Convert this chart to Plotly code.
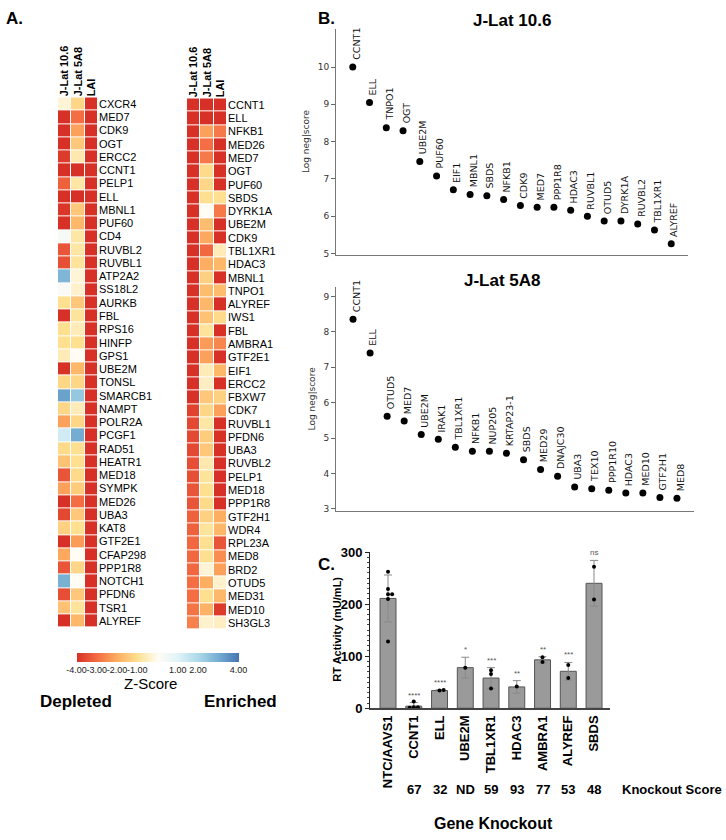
import plotly.graph_objects as go

W, H = 726, 840

# ---------------- data ----------------
conditions = ["J-Lat 10.6", "J-Lat 5A8", "LAI"]

dep_genes = ["CXCR4", "MED7", "CDK9", "OGT", "ERCC2", "CCNT1", "PELP1", "ELL", "MBNL1", "PUF60",
             "CD4", "RUVBL2", "RUVBL1", "ATP2A2", "SS18L2", "AURKB", "FBL", "RPS16", "HINFP", "GPS1",
             "UBE2M", "TONSL", "SMARCB1", "NAMPT", "POLR2A", "PCGF1", "RAD51", "HEATR1", "MED18", "SYMPK",
             "MED26", "UBA3", "KAT8", "GTF2E1", "CFAP298", "PPP1R8", "NOTCH1", "PFDN6", "TSR1", "ALYREF"]
dep_jlat106 = [-0.3, -4, -4, -4, -3.8, -4, -3.2, -4, -3.9, -4,
               0.3, -3.4, -3.5, 2.8, 0.2, -1.0, -4, -1.0, -1.0, -0.6,
               -4, -1.2, 3.2, -1.2, -2.2, 1.3, -1.1, -1.6, -3.4, -2.2,
               -4, -3.6, -1.3, -4, -2.1, -3.4, 2.9, -3.5, -1.6, -4]
dep_jlat5a8 = [-1.2, -3.0, -2.2, -1.5, -0.7, -4, -0.8, -4, -1.5, -1.8,
               -0.8, -0.8, -0.9, -0.3, -0.4, -1.5, -0.9, -0.6, -1.0, 0.0,
               -1.8, -1.2, 2.4, -0.6, -1.2, 3.0, -1.0, -1.0, -1.1, -1.4,
               -3.0, -1.5, -1.0, -2.3, 0.0, -1.2, 0.0, -1.5, -0.9, -1.8]
dep_lai = [-4] * 40

enr_genes = ["CCNT1", "ELL", "NFKB1", "MED26", "MED7", "OGT", "PUF60", "SBDS", "DYRK1A", "UBE2M",
             "CDK9", "TBL1XR1", "HDAC3", "MBNL1", "TNPO1", "ALYREF", "IWS1", "FBL", "AMBRA1", "GTF2E1",
             "EIF1", "ERCC2", "FBXW7", "CDK7", "RUVBL1", "PFDN6", "UBA3", "RUVBL2", "PELP1", "MED18",
             "PPP1R8", "GTF2H1", "WDR4", "RPL23A", "MED8", "BRD2", "OTUD5", "MED31", "MED10", "SH3GL3"]
enr_jlat106 = [-4, -4, -4, -4, -4, -4, -4, -4, -4, -4,
               -4, -4, -4, -4, -4, -4, -4, -4, -4, -4,
               -4, -4, -4, -3.7, -3.6, -3.6, -3.6, -3.5, -3.5, -3.4,
               -3.4, -3.2, -3.2, -3.1, -3.1, -3.1, -3.0, -3.0, -2.9, -2.7]
enr_jlat5a8 = [-4, -4, -2.2, -3.0, -2.8, -1.1, -1.2, -1.0, 0.0, -1.7,
               -2.1, -3.1, -2.0, -1.3, -1.7, -1.8, -1.6, -0.9, -2.3, -2.2,
               -0.6, -0.5, -1.5, -1.2, -0.8, -1.4, -1.5, -0.7, -0.9, -1.0,
               -1.1, -1.3, -0.9, -1.0, -1.0, -0.3, -2.0, -1.0, -1.9, -0.4]
enr_lai = [-4, -4, -2.8, -4, -4, -4, -4, -1.0, -2.8, -4,
           -4, -0.6, -1.8, -4, -1.7, -4, -1.1, -4, -2.6, -4,
           -1.8, -4, -1.3, -2.2, -4, -4, -4, -4, -4, -4,
           -4, -2.0, -1.8, -3.4, -2.5, -2.2, -0.4, -1.8, -3.8, -0.5]

jlat106_genes = ["CCNT1", "ELL", "TNPO1", "OGT", "UBE2M", "PUF60", "EIF1", "MBNL1", "SBDS", "NFKB1",
                 "CDK9", "MED7", "PPP1R8", "HDAC3", "RUVBL1", "OTUD5", "DYRK1A", "RUVBL2", "TBL1XR1", "ALYREF"]
jlat106_score = [10.0, 9.05, 8.37, 8.29, 7.47, 7.08, 6.71, 6.58, 6.55, 6.45,
                 6.29, 6.24, 6.24, 6.16, 6.0, 5.87, 5.87, 5.79, 5.63, 5.26]

jlat5a8_genes = ["CCNT1", "ELL", "OTUD5", "MED7", "UBE2M", "IRAK1", "TBL1XR1", "NFKB1", "NUP205", "KRTAP23-1",
                 "SBDS", "MED29", "DNAJC30", "UBA3", "TEX10", "PPP1R10", "HDAC3", "MED10", "GTF2H1", "MED8"]
jlat5a8_score = [8.36, 7.4, 5.62, 5.48, 5.1, 4.97, 4.74, 4.63, 4.63, 4.57,
                 4.39, 4.11, 3.92, 3.62, 3.57, 3.53, 3.45, 3.45, 3.32, 3.30]

ko_genes = ["NTC/AAVS1", "CCNT1", "ELL", "UBE2M", "TBL1XR1", "HDAC3", "AMBRA1", "ALYREF", "SBDS"]
ko_rt_mean = [211, 4, 34, 78, 58, 41, 93, 71, 240]
ko_rt_err = [45, 7, 1.5, 20, 20, 12, 6, 17, 44]
ko_rt_reps = [[262, 229, 219, 219, 210, 128], [13, 2, 2, 1], [34, 35], [78],
              [73, 66, 38], [42], [98, 89], [83, 58], [272, 209]]
ko_sig = ["", "****", "****", "*", "***", "**", "**", "***", "ns"]
ko_score = ["", "67", "32", "ND", "59", "93", "77", "53", "48"]

cbar_vals = [-4, -3, -2, -1, 1, 2, 4]
cbar_text = ["-4.00", "-3.00", "-2.00", "-1.00", "1.00", "2.00", "4.00"]

# ---------------- helpers ----------------
def fx(px):
    return px / W

def fy(px):
    return 1 - px / H

ARIAL = "Liberation Sans, Arial, sans-serif"
DEJAVU = "DejaVu Sans, sans-serif"

colorscale = [
    [0.0, "#d73027"], [0.125, "#f46d43"], [0.25, "#fdae61"], [0.375, "#fee090"],
    [0.5, "#fffcf4"], [0.625, "#e0f3f8"], [0.75, "#abd9e9"], [0.875, "#74add1"], [1.0, "#4575b4"],
]

fig = go.Figure()

# ---------------- heatmaps ----------------
def zmat(a, b, c):
    return [[a[i], b[i], c[i]] for i in range(len(a))]

fig.add_trace(go.Heatmap(z=zmat(dep_jlat106, dep_jlat5a8, dep_lai), x=conditions, y=dep_genes,
                         coloraxis="coloraxis", xgap=1, ygap=1, xaxis="x", yaxis="y", hoverinfo="skip"))
fig.add_trace(go.Heatmap(z=zmat(enr_jlat106, enr_jlat5a8, enr_lai), x=conditions, y=enr_genes,
                         coloraxis="coloraxis", xgap=1, ygap=1, xaxis="x2", yaxis="y2", hoverinfo="skip"))

# ---------------- scatter panels ----------------
fig.add_trace(go.Scatter(x=list(range(1, len(jlat106_score) + 1)), y=jlat106_score, mode="markers",
                         marker=dict(color="black", size=7), xaxis="x3", yaxis="y3", cliponaxis=False,
                         hoverinfo="skip"))
fig.add_trace(go.Scatter(x=list(range(1, len(jlat5a8_score) + 1)), y=jlat5a8_score, mode="markers",
                         marker=dict(color="black", size=7), xaxis="x4", yaxis="y4", cliponaxis=False,
                         hoverinfo="skip"))

annotations = []
for i, (g, s) in enumerate(zip(jlat106_genes, jlat106_score)):
    annotations.append(dict(x=i + 1, y=s, xref="x3", yref="y3", text=g, showarrow=False, textangle=-90,
                            xanchor="center", yanchor="bottom", xshift=3, yshift=5,
                            font=dict(family=DEJAVU, size=9.5, color="#111")))
for i, (g, s) in enumerate(zip(jlat5a8_genes, jlat5a8_score)):
    annotations.append(dict(x=i + 1, y=s, xref="x4", yref="y4", text=g, showarrow=False, textangle=-90,
                            xanchor="center", yanchor="bottom", xshift=3, yshift=5,
                            font=dict(family=DEJAVU, size=9.5, color="#111")))

# ---------------- bar chart ----------------
idx = list(range(len(ko_genes)))
fig.add_trace(go.Bar(x=idx, y=ko_rt_mean, width=0.62, xaxis="x5", yaxis="y5", hoverinfo="skip",
                     marker=dict(color="#9a9a9a", line=dict(color="#555", width=1)),
                     error_y=dict(type="data", array=ko_rt_err, color="#8a8a8a", thickness=1, width=4)))

# replicate points (spread points that overlap)
px_, py_ = [], []
for i, reps in enumerate(ko_rt_reps):
    used = []
    for v in reps:
        close = [u for u in used if abs(u - v) < 6]
        used.append(v)
        n = len(close)
        off = 0.0 if n == 0 else (0.16 if n % 2 == 1 else -0.16) * ((n + 1) // 2)
        px_.append(i + off)
        py_.append(v)
fig.add_trace(go.Scatter(x=px_, y=py_, mode="markers", marker=dict(color="black", size=4),
                         xaxis="x5", yaxis="y5", cliponaxis=False, hoverinfo="skip"))

for i in idx:
    if ko_sig[i]:
        annotations.append(dict(x=i, y=ko_rt_mean[i] + ko_rt_err[i], xref="x5", yref="y5", text=ko_sig[i],
                                showarrow=False, yanchor="bottom", yshift=1,
                                font=dict(family=ARIAL, size=8, color="#555")))
    if ko_score[i]:
        annotations.append(dict(x=i, y=fy(797), xref="x5", yref="paper", text=ko_score[i], showarrow=False,
                                yanchor="middle", font=dict(family=ARIAL, size=13, color="black", weight="bold")))
annotations.append(dict(x=fx(724), y=fy(797), xref="paper", yref="paper", text="Knockout Score",
                        showarrow=False, xanchor="right", yanchor="middle",
                        font=dict(family=ARIAL, size=13, color="black", weight="bold")))
annotations.append(dict(x=fx(493), y=fy(831), xref="paper", yref="paper", text="Gene Knockout",
                        showarrow=False, xanchor="center", yanchor="middle",
                        font=dict(family=ARIAL, size=16, color="black", weight="bold")))
annotations.append(dict(x=fx(337), y=fy(634), xref="paper", yref="paper", text="RT Activity (mU/mL)",
                        showarrow=False, textangle=-90, xanchor="center", yanchor="middle",
                        font=dict(family=ARIAL, size=11, color="black", weight="bold")))

# ---------------- text labels ----------------
def txt(x, y, t, size, bold=False, anchor="center", family=ARIAL, color="black"):
    annotations.append(dict(x=fx(x), y=fy(y), xref="paper", yref="paper", text=t, showarrow=False,
                            xanchor=anchor, yanchor="middle",
                            font=dict(family=family, size=size, color=color,
                                      weight="bold" if bold else "normal")))

txt(4, 12, "A.", 17, True, "left")
txt(316, 12, "B.", 17, True, "left")
txt(316, 568, "C.", 17, True, "left")
txt(512, 14, "J-Lat 10.6", 17, True)
txt(502, 278, "J-Lat 5A8", 17, True)
txt(150, 689, "Z-Score", 15)
txt(76, 707, "Depleted", 17, True)
txt(240, 707, "Enriched", 17, True)

fig.update_layout(
    width=W, height=H, margin=dict(l=0, r=0, t=0, b=0),
    paper_bgcolor="white", plot_bgcolor="white", showlegend=False, hovermode=False,
    annotations=annotations,
    coloraxis=dict(
        colorscale=colorscale, cmin=-4, cmax=4,
        colorbar=dict(orientation="h", x=fx(157.5), xanchor="center", y=fy(658), yanchor="top",
                      lenmode="pixels", len=162, thickness=9, thicknessmode="pixels",
                      outlinewidth=0, tickvals=cbar_vals, ticktext=cbar_text, ticks="", tickangle=0,
                      tickfont=dict(family=ARIAL, size=9, color="#222"), xpad=0, ypad=0),
    ),
    xaxis=dict(domain=[fx(58), fx(98)], anchor="y", side="top", tickangle=-90, ticks="",
               tickfont=dict(family=ARIAL, size=11, color="black", weight="bold"),
               showgrid=False, zeroline=False, showline=False),
    yaxis=dict(domain=[fy(632), fy(92)], anchor="x", side="right", autorange="reversed", ticks="",
               tickfont=dict(family=ARIAL, size=11, color="black"), showgrid=False, zeroline=False),
    xaxis2=dict(domain=[fx(187), fx(227)], anchor="y2", side="top", tickangle=-90, ticks="",
                tickfont=dict(family=ARIAL, size=11, color="black", weight="bold"),
                showgrid=False, zeroline=False, showline=False),
    yaxis2=dict(domain=[fy(634), fy(93)], anchor="x2", side="right", autorange="reversed", ticks="",
                tickfont=dict(family=ARIAL, size=11, color="black"), showgrid=False, zeroline=False),
    xaxis3=dict(domain=[fx(336), fx(688)], anchor="y3", range=[0, 21], showticklabels=False, ticks="",
                showline=True, linecolor="#777", linewidth=1, showgrid=False, zeroline=False),
    yaxis3=dict(domain=[fy(252), fy(22)], anchor="x3", range=[4.974, 11.03], tickvals=[5, 6, 7, 8, 9, 10],
                ticks="outside", ticklen=4, tickcolor="#666", showline=True, linecolor="#777", linewidth=1,
                showgrid=False, zeroline=False, tickfont=dict(family=DEJAVU, size=9, color="#333"),
                title=dict(text="Log neg|score", font=dict(family=DEJAVU, size=9, color="#333"), standoff=6)),
    xaxis4=dict(domain=[fx(336), fx(694)], anchor="y4", range=[0, 21], showticklabels=False, ticks="",
                showline=True, linecolor="#777", linewidth=1, showgrid=False, zeroline=False),
    yaxis4=dict(domain=[fy(513), fy(285)], anchor="x4", range=[2.945, 9.27], tickvals=[3, 4, 5, 6, 7, 8, 9],
                ticks="outside", ticklen=4, tickcolor="#666", showline=True, linecolor="#777", linewidth=1,
                showgrid=False, zeroline=False, tickfont=dict(family=DEJAVU, size=9, color="#333"),
                title=dict(text="Log neg|score", font=dict(family=DEJAVU, size=9, color="#333"), standoff=6)),
    xaxis5=dict(domain=[fx(370), fx(610)], anchor="y5", range=[-0.7, 8.62], tickvals=idx, ticktext=ko_genes,
                tickangle=-90, ticks="", showline=True, linecolor="#444", linewidth=2, showgrid=False,
                zeroline=False, tickfont=dict(family=ARIAL, size=13, color="black", weight="bold")),
    yaxis5=dict(domain=[fy(714), fy(555)], anchor="x5", range=[0, 300], tickvals=[0, 100, 200, 300],
                ticks="outside", ticklen=4, tickcolor="#222", showline=True, linecolor="#222", linewidth=1,
                minor=dict(dtick=10, ticks="outside", ticklen=2, tickcolor="#444"),
                showgrid=False, zeroline=False, tickfont=dict(family=ARIAL, size=13, color="black", weight="bold")),
)

fig.write_html("out.html", config={"displayModeBar": False, "staticPlot": True},
               post_script="document.body.style.margin='0';document.body.style.overflow='hidden';")
